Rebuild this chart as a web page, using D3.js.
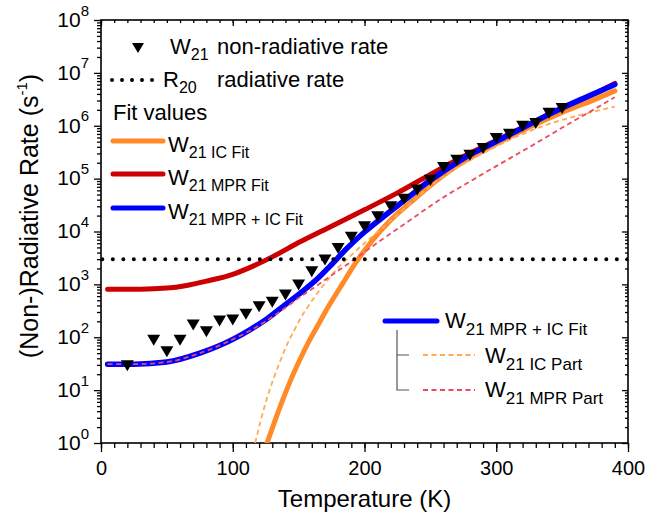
<!DOCTYPE html>
<html>
<head>
<meta charset="utf-8">
<script src="https://cdn.jsdelivr.net/npm/d3@7"></script>
<style>
  body { margin: 0; background: #fff; }
  svg { font-family: "Liberation Sans", Arial, sans-serif; }
</style>
</head>
<body>
<svg id="chart" width="661" height="515"></svg>
<script>
// measured W21 non-radiative rate (s^-1)
var temperature = [20,40,50,60,70,80,90,100,110,120,130,140,150,160,170,180,190,200,210,220,230,240,250,260,270,280,290,300,310,320,330,340,350];
var w21NonRad = [29,88,53,88,170,127,202,211,271,377,457,628,970,1740,2880,4790,7800,12300,19000,29300,40800,60700,93000,162000,223000,276000,370000,575000,692000,980000,1100000,1730000,2130000];
var r20Rad = 3000;

// fit curves
var icFitT = [126,132,138,145,151,158,164,170,176,183,192,200,210,220,235,250,270,300,325,350,375,390];
var icFit  = [1,2.63,6.61,17.8,38,85.1,158,295,525,1000,2290,4370,8910,16600,35500,74100,174000,457000,933000,1780000,3160000,4570000];

var mprFitT = [5,30,50,65,80,100,115,130,150,175,200,225,250,275,300,325,350,375,390];
var mprFit  = [813,813,851,955,1150,1550,2190,3310,6170,12600,25700,53700,120000,263000,525000,1070000,2140000,4070000,6310000];

var mprIcFitT = [5,25,50,75,100,113,125,138,151,164,174,187,200,217,232,245,260,275,295,320,346,371,390];
var mprIcFit  = [31,31,34,50,91,138,214,380,676,1260,2240,4900,9770,21400,41700,75900,138000,240000,437000,912000,1950000,3720000,6030000];

var icPartT = [117,121,126,131,136,141,146,152,159,165,171,181,189,200,210,222,240,260,285,310,335,360,390];
var icPart  = [1,2.51,7.08,16.6,35.5,70.8,126,240,447,724,1120,2190,3390,6030,9770,17800,44700,110000,257000,537000,977000,1510000,2290000];

var mprPartT = [5,25,50,75,100,125,140,151,164,179,195,210,232,257,283,308,333,358,375,390];
var mprPart  = [31,31,34,50,91,200,363,575,955,1740,3310,6170,14800,39800,97700,224000,513000,1200000,2090000,3470000];

var xTicks = [0,100,200,300,400];
var yTicks = [1,1e1,1e2,1e3,1e4,1e5,1e6,1e7,1e8];

var palette = {
  orange: "#ff8a27",
  red: "#cc0000",
  blue: "#0000ff",
  orangeDash: "#ffaa55",
  redDash: "#ee4a5e",
  bracket: "#555"
};

var svg = d3.select("#chart");
var plotL = 101, plotR = 628, plotT = 20, plotB = 443;

var x = d3.scaleLinear().domain([0, 400]).range([plotL, plotR]);
var y = d3.scaleLog().domain([1, 1e8]).range([plotB, plotT]);

var yMinor = [];
yTicks.slice(0, -1).forEach(function(d){
  for (var k = 2; k <= 9; k++) yMinor.push(d * k);
});
var xMinor = d3.range(0, 401, 10);

svg.append("defs").append("clipPath").attr("id", "plotclip")
  .append("rect").attr("x", plotL).attr("y", plotT)
  .attr("width", plotR - plotL).attr("height", plotB - plotT);

// axes
function styleAxis(g){
  g.select(".domain").remove();
  g.selectAll(".tick line").attr("stroke", "#000").attr("stroke-width", 1.3);
}

svg.append("g").attr("transform", "translate(0," + plotB + ")")
  .call(d3.axisBottom(x).tickValues(xMinor).tickSize(5).tickFormat(""))
  .call(styleAxis);
svg.append("g").attr("transform", "translate(0," + plotB + ")")
  .call(d3.axisBottom(x).tickValues(xTicks).tickSize(9).tickPadding(9).tickFormat(d3.format("d")))
  .call(styleAxis)
  .selectAll("text").attr("font-size", "20px").attr("fill", "#000")
  .attr("font-family", "Liberation Sans, Arial, sans-serif");

svg.append("g").attr("transform", "translate(0," + plotT + ")")
  .call(d3.axisBottom(x).tickValues(xMinor).tickSize(3).tickFormat(""))
  .call(styleAxis);
svg.append("g").attr("transform", "translate(0," + plotT + ")")
  .call(d3.axisBottom(x).tickValues(xTicks).tickSize(6).tickFormat(""))
  .call(styleAxis);

svg.append("g").attr("transform", "translate(" + plotL + ",0)")
  .call(d3.axisLeft(y).tickValues(yMinor).tickSize(4).tickFormat(""))
  .call(styleAxis);
var yAxis = svg.append("g").attr("transform", "translate(" + plotL + ",0)")
  .call(d3.axisLeft(y).tickValues(yTicks).tickSize(7).tickPadding(5).tickFormat(""))
  .call(styleAxis);
yAxis.selectAll(".tick text").each(function(d){
  var t = d3.select(this)
    .attr("font-size", "21px").attr("fill", "#000")
    .attr("font-family", "Liberation Sans, Arial, sans-serif")
    .attr("dy", "0.3em");
  t.append("tspan").text("10");
  t.append("tspan").attr("font-size", "15px").attr("dy", "-0.75em").text(Math.round(Math.log10(d)));
});

svg.append("g").attr("transform", "translate(" + plotR + ",0)")
  .call(d3.axisLeft(y).tickValues(yMinor).tickSize(3).tickFormat(""))
  .call(styleAxis);
svg.append("g").attr("transform", "translate(" + plotR + ",0)")
  .call(d3.axisLeft(y).tickValues(yTicks).tickSize(6).tickFormat(""))
  .call(styleAxis);

svg.append("rect").attr("x", plotL).attr("y", plotT)
  .attr("width", plotR - plotL).attr("height", plotB - plotT)
  .attr("fill", "none").attr("stroke", "#000").attr("stroke-width", 1.6);

// titles
svg.append("text").attr("x", (plotL + plotR) / 2).attr("y", 507)
  .attr("text-anchor", "middle").attr("font-size", "24px").text("Temperature (K)");

var yTitle = svg.append("text")
  .attr("transform", "translate(38,216) rotate(-90)")
  .attr("text-anchor", "middle").attr("font-size", "25px");
yTitle.append("tspan").text("(Non-)Radiative Rate (s");
yTitle.append("tspan").attr("font-size", "15px").attr("dy", "-0.75em").text("-1");
yTitle.append("tspan").attr("dy", "0.45em").text(")");

// curves
var plot = svg.append("g").attr("clip-path", "url(#plotclip)");
var line = d3.line()
  .x(function(d){ return x(d[0]); })
  .y(function(d){ return y(d[1]); })
  .curve(d3.curveMonotoneX);

function drawCurve(ts, vs, color, width, dash){
  var p = plot.append("path")
    .datum(d3.zip(ts, vs))
    .attr("d", line)
    .attr("fill", "none")
    .attr("stroke", color)
    .attr("stroke-width", width)
    .attr("stroke-linecap", dash ? "butt" : "round");
  if (dash) p.attr("stroke-dasharray", dash);
  return p;
}

drawCurve(mprFitT, mprFit, palette.red, 5);
drawCurve(icFitT, icFit, palette.orange, 5);
drawCurve(mprIcFitT, mprIcFit, palette.blue, 5.5);
drawCurve(icPartT, icPart, palette.orangeDash, 1.8, "5,3.5");
drawCurve(mprPartT, mprPart, palette.redDash, 1.8, "5,3.5");

plot.append("line")
  .attr("x1", x(1)).attr("x2", x(400))
  .attr("y1", y(r20Rad)).attr("y2", y(r20Rad))
  .attr("stroke", "#000").attr("stroke-width", 4)
  .attr("stroke-linecap", "round").attr("stroke-dasharray", "0,10.5");

var tri = "M-6.5,-5.5L6.5,-5.5L0,5.5Z";
plot.selectAll(".pt")
  .data(d3.zip(temperature, w21NonRad))
  .enter().append("path")
  .attr("class", "pt")
  .attr("d", tri)
  .attr("transform", function(d){ return "translate(" + x(d[0]) + "," + y(d[1]) + ")"; })
  .attr("fill", "#000");

// legend top-left
var lg = svg.append("g").attr("font-size", "22px").attr("fill", "#000");

lg.append("path").attr("d", "M-6,-5L6,-5L0,5Z").attr("transform", "translate(138,48)");
function wLabel(g, xp, yp, sub, subSize, subDy){
  var t = g.append("text").attr("x", xp).attr("y", yp);
  t.append("tspan").text("W");
  t.append("tspan").attr("font-size", subSize).attr("dy", subDy).text(sub);
  return t;
}
wLabel(lg, 170, 54, "21", "16px", 6);
lg.append("text").attr("x", 217).attr("y", 54).text("non-radiative rate");

lg.append("line").attr("x1", 112).attr("x2", 162).attr("y1", 80).attr("y2", 80)
  .attr("stroke", "#000").attr("stroke-width", 4)
  .attr("stroke-linecap", "round").attr("stroke-dasharray", "0,10");
var rt = lg.append("text").attr("x", 163).attr("y", 87);
rt.append("tspan").text("R");
rt.append("tspan").attr("font-size", "16px").attr("dy", 6).text("20");
lg.append("text").attr("x", 217).attr("y", 87).text("radiative rate");

lg.append("text").attr("x", 113).attr("y", 120).text("Fit values");

var fitRows = [
  { color: palette.orange, y: 141, label: "21 IC Fit" },
  { color: palette.red, y: 174, label: "21 MPR Fit" },
  { color: palette.blue, y: 208, label: "21 MPR + IC Fit" }
];
fitRows.forEach(function(r){
  lg.append("line").attr("x1", 113).attr("x2", 163).attr("y1", r.y).attr("y2", r.y)
    .attr("stroke", r.color).attr("stroke-width", 5).attr("stroke-linecap", "round");
  wLabel(lg, 168, r.y + 11, r.label, "16px", 6);
});

// legend bottom-right
var lg2 = svg.append("g").attr("font-size", "22px").attr("fill", "#000");
lg2.append("line").attr("x1", 385).attr("x2", 437).attr("y1", 321).attr("y2", 321)
  .attr("stroke", palette.blue).attr("stroke-width", 5).attr("stroke-linecap", "round");
wLabel(lg2, 445, 328, "21 MPR + IC Fit", "17px", 7);

lg2.append("path").attr("d", "M397,330V390H409M397,355H409")
  .attr("fill", "none").attr("stroke", palette.bracket).attr("stroke-width", 1.2);

lg2.append("line").attr("x1", 423).attr("x2", 475).attr("y1", 355).attr("y2", 355)
  .attr("stroke", palette.orangeDash).attr("stroke-width", 1.8).attr("stroke-dasharray", "5,3.5");
wLabel(lg2, 485, 363, "21 IC Part", "17px", 7);

lg2.append("line").attr("x1", 423).attr("x2", 475).attr("y1", 390).attr("y2", 390)
  .attr("stroke", palette.redDash).attr("stroke-width", 1.8).attr("stroke-dasharray", "5,3.5");
wLabel(lg2, 485, 397, "21 MPR Part", "17px", 7);
</script>
</body>
</html>
